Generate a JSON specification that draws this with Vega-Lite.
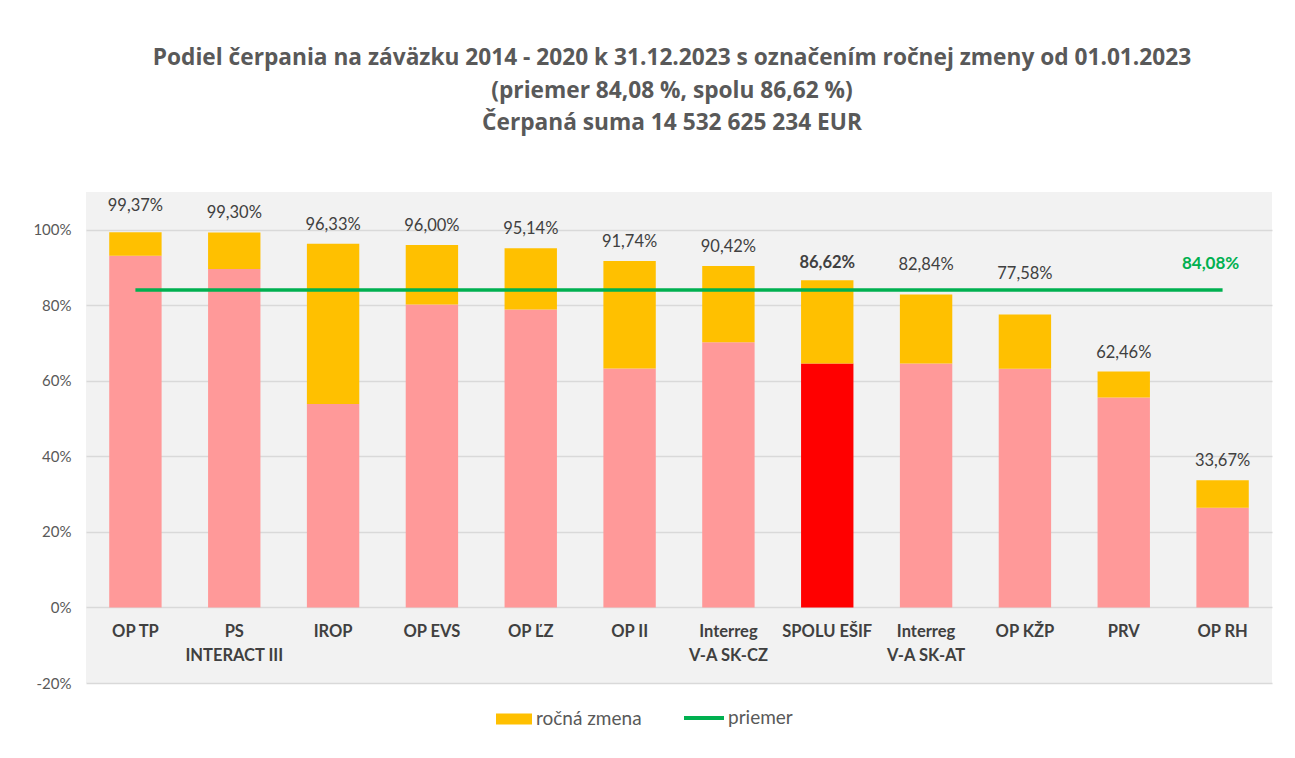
{
  "$schema": "https://vega.github.io/schema/vega-lite/v6.json",
  "width": 1186,
  "height": 491,
  "autosize": {"type": "none"},
  "padding": {"left": 86, "top": 192, "right": 23, "bottom": 75},
  "background": "white",
  "config": {
    "font": "Lato",
    "view": {"fill": "#F2F2F2", "stroke": null},
    "locale": {"number": {"decimal": ",", "thousands": " ", "grouping": [3], "currency": ["", " €"], "minus": "-"}}
  },
  "title": {
    "text": ["Podiel čerpania na záväzku 2014 - 2020 k 31.12.2023 s označením ročnej zmeny od 01.01.2023", "(priemer 84,08 %, spolu 86,62 %)", "Čerpaná suma 14 532 625 234 EUR"],
    "font": "Open Sans",
    "fontSize": 22.7,
    "fontWeight": "bold",
    "color": "#595959",
    "anchor": "middle",
    "lineHeight": 32.5,
    "offset": 57,
    "dx": -7
  },
  "data": {"values": [
    {"cat": "OP TP", "base": 0.931, "total": 0.9937, "spolu": false},
    {"cat": "PS|INTERACT III", "base": 0.896, "total": 0.9930, "spolu": false},
    {"cat": "IROP", "base": 0.539, "total": 0.9633, "spolu": false},
    {"cat": "OP EVS", "base": 0.802, "total": 0.9600, "spolu": false},
    {"cat": "OP ĽZ", "base": 0.789, "total": 0.9514, "spolu": false},
    {"cat": "OP II", "base": 0.633, "total": 0.9174, "spolu": false},
    {"cat": "Interreg|V-A SK-CZ", "base": 0.702, "total": 0.9042, "spolu": false},
    {"cat": "SPOLU EŠIF", "base": 0.646, "total": 0.8662, "spolu": true},
    {"cat": "Interreg|V-A SK-AT", "base": 0.646, "total": 0.8284, "spolu": false},
    {"cat": "OP KŽP", "base": 0.632, "total": 0.7758, "spolu": false},
    {"cat": "PRV", "base": 0.556, "total": 0.6246, "spolu": false},
    {"cat": "OP RH", "base": 0.264, "total": 0.3367, "spolu": false}
  ]},
  "encoding": {
    "x": {
      "field": "cat", "type": "nominal", "sort": null,
      "scale": {"paddingInner": 0.47, "paddingOuter": 0.235},
      "axis": {
        "title": null, "orient": "bottom", "offset": -76,
        "domain": false, "ticks": false, "grid": false,
        "labelAngle": 0, "labelExpr": "split(datum.label, '|')",
        "labelFont": "Lato", "labelFontSize": 16.5, "labelFontWeight": "bold",
        "labelColor": "#404040", "labelLineHeight": 24, "labelPadding": 16
      }
    }
  },
  "layer": [
    {
      "mark": {"type": "bar"},
      "encoding": {
        "y": {
          "field": "base", "type": "quantitative",
          "scale": {"domain": [-0.2, 1.1], "nice": false, "zero": false},
          "axis": {
            "title": null, "values": [-0.2, 0, 0.2, 0.4, 0.6, 0.8, 1.0],
            "format": ".0%", "domain": false, "ticks": false,
            "gridColor": "#D9D9D9", "gridWidth": 1.3,
            "labelFont": "Lato", "labelFontSize": 15, "labelColor": "#595959", "labelPadding": 15
          }
        },
        "y2": {"datum": 0},
        "color": {
          "condition": {"test": "datum.spolu", "value": "#FF0000"},
          "value": "#FF9999"
        }
      }
    },
    {
      "mark": {"type": "bar"},
      "encoding": {
        "y": {"field": "base", "type": "quantitative"},
        "y2": {"field": "total"},
        "fill": {
          "datum": "ročná zmena",
          "scale": {"domain": ["ročná zmena"], "range": ["#FFC000"]},
          "legend": {
            "title": null, "orient": "none", "legendX": 410, "legendY": 509,
            "symbolType": "M-1,-0.3H1V0.3H-1Z",
            "symbolSize": 1296, "symbolStrokeWidth": 0, "symbolOpacity": 1,
            "labelFont": "Lato", "labelFontSize": 19,
            "labelColor": "#595959", "labelOffset": 4
          }
        }
      }
    },
    {
      "mark": {"type": "line", "strokeWidth": 3.5},
      "encoding": {
        "y": {"datum": 0.8408},
        "stroke": {
          "datum": "priemer",
          "scale": {"domain": ["priemer"], "range": ["#00B050"]},
          "legend": {
            "title": null, "orient": "none", "legendX": 596, "legendY": 504,
            "symbolType": "stroke",
            "symbolSize": 1600, "symbolStrokeWidth": 4, "labelFont": "Lato", "labelFontSize": 19,
            "labelColor": "#595959", "labelOffset": 2
          }
        }
      }
    },
    {
      "transform": [{"filter": "!datum.spolu && indexof(['OP TP','Interreg|V-A SK-AT','OP KŽP'], datum.cat) < 0"}],
      "mark": {"type": "text", "baseline": "middle", "dy": -19, "font": "Lato", "fontSize": 16.5, "color": "#404040"},
      "encoding": {
        "y": {"field": "total", "type": "quantitative"},
        "text": {"field": "total", "type": "quantitative", "format": ".2%"}
      }
    },
    {
      "transform": [{"filter": "datum.cat == 'OP TP'"}],
      "mark": {"type": "text", "baseline": "middle", "dy": -26, "font": "Lato", "fontSize": 16.5, "color": "#404040"},
      "encoding": {
        "y": {"field": "total", "type": "quantitative"},
        "text": {"field": "total", "type": "quantitative", "format": ".2%"}
      }
    },
    {
      "transform": [{"filter": "datum.cat == 'Interreg|V-A SK-AT'"}],
      "mark": {"type": "text", "baseline": "middle", "dy": -30, "font": "Lato", "fontSize": 16.5, "color": "#404040"},
      "encoding": {
        "y": {"field": "total", "type": "quantitative"},
        "text": {"field": "total", "type": "quantitative", "format": ".2%"}
      }
    },
    {
      "transform": [{"filter": "datum.cat == 'OP KŽP'"}],
      "mark": {"type": "text", "baseline": "middle", "dy": -40, "font": "Lato", "fontSize": 16.5, "color": "#404040"},
      "encoding": {
        "y": {"field": "total", "type": "quantitative"},
        "text": {"field": "total", "type": "quantitative", "format": ".2%"}
      }
    },
    {
      "transform": [{"filter": "datum.spolu"}],
      "mark": {"type": "text", "baseline": "middle", "dy": -17, "font": "Lato", "fontSize": 16.5, "fontWeight": "bold", "color": "#404040"},
      "encoding": {
        "y": {"field": "total", "type": "quantitative"},
        "text": {"field": "total", "type": "quantitative", "format": ".2%"}
      }
    },
    {
      "data": {"values": [{"cat": "OP RH", "avg": 0.8408}]},
      "mark": {"type": "text", "baseline": "middle", "dy": -26, "dx": -12, "font": "Lato", "fontSize": 17, "fontWeight": "bold", "color": "#00B050"},
      "encoding": {
        "y": {"field": "avg", "type": "quantitative"},
        "text": {"field": "avg", "type": "quantitative", "format": ".2%"}
      }
    }
  ]
}
